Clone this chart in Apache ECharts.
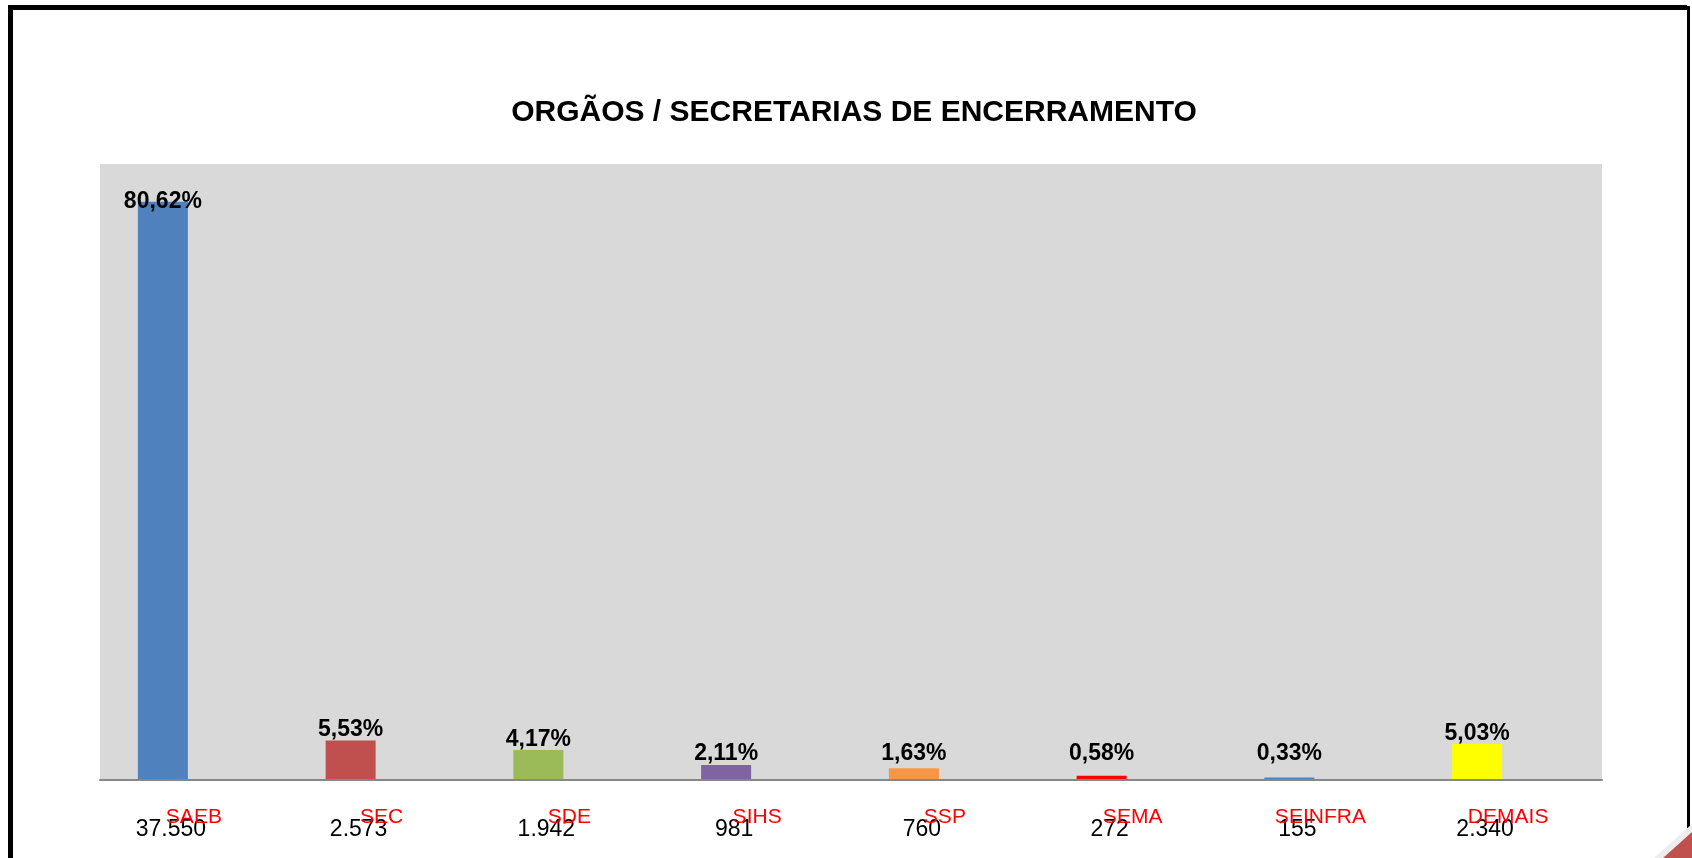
<!DOCTYPE html>
<html>
<head>
<meta charset="utf-8">
<script src="https://cdn.jsdelivr.net/npm/echarts@6/dist/echarts.min.js"></script>
<style>
html,body{margin:0;padding:0;background:#fff;}
#chart{width:1692px;height:858px;}
</style>
</head>
<body>
<div id="chart"></div>
<script>
const categories = ['SAEB', 'SEC', 'SDE', 'SIHS', 'SSP', 'SEMA', 'SEINFRA', 'DEMAIS'];
const counts = [37550, 2573, 1942, 981, 760, 272, 155, 2340];
const percentLabels = ['80,62%', '5,53%', '4,17%', '2,11%', '1,63%', '0,58%', '0,33%', '5,03%'];
const barColors = ['#4F81BD', '#C0504D', '#9BBB59', '#8064A2', '#F79646', '#FF0000', '#4F81BD', '#FFFF00'];
const titleText = 'ORGÃOS / SECRETARIAS DE ENCERRAMENTO';
const yMax = 40000;
const labelFloor = 1000;

const fmtCount = v => String(v).replace(/\B(?=(\d{3})+(?!\d))/g, '.');
const FONT = '"Liberation Sans", Arial, sans-serif';
const maxCount = Math.max(...counts);

const chart = echarts.init(document.getElementById('chart'), null, {renderer: 'canvas'});
chart.setOption({
  backgroundColor: '#ffffff',
  animation: false,
  title: {
    text: titleText,
    left: 849, top: 93, textAlign: 'center',
    textStyle: {fontFamily: FONT, fontSize: 30, fontWeight: 'bold', color: '#000'}
  },
  grid: {
    left: 100, right: 90, top: 164, bottom: 78,
    show: true, backgroundColor: '#D9D9D9', borderWidth: 0
  },
  xAxis: [
    {
      type: 'category', data: categories, z: 5,
      axisLine: {show: true, lineStyle: {color: '#878787', width: 2}},
      axisTick: {show: false},
      axisLabel: {margin: 27, color: '#FF0000', fontFamily: FONT, fontSize: 21, interval: 0}
    },
    {
      type: 'category', data: counts.map(fmtCount), position: 'bottom', offset: 0, z: 3,
      axisLine: {show: false}, axisTick: {show: false},
      axisLabel: {margin: 38, color: '#000', fontFamily: FONT, fontSize: 23, interval: 0,
                  padding: [0, 46, 0, 0]}
    }
  ],
  yAxis: {type: 'value', min: 0, max: yMax, show: false, splitLine: {show: false}},
  series: [
    {
      type: 'bar', stack: 'v', barWidth: 50, barGap: '24%',
      data: counts.map((v, i) => ({value: v, itemStyle: {color: barColors[i]}})),
      silent: true
    },
    {
      type: 'bar', stack: 'v', barWidth: 50, barGap: '24%',
      data: counts.map(v => {
        const item = {value: Math.max(0, labelFloor - v)};
        if (v === maxCount) item.label = {distance: -11};
        return item;
      }),
      itemStyle: {color: 'rgba(0,0,0,0)'},
      silent: true,
      label: {
        show: true, position: 'top', distance: -1,
        fontFamily: FONT, fontSize: 23, fontWeight: 'bold', color: '#000',
        formatter: p => percentLabels[p.dataIndex]
      }
    },
    {
      type: 'bar', barWidth: 50, barGap: '24%',
      data: categories.map(() => '-'),
      silent: true
    }
  ],
  graphic: [
    {type: 'polyline', shape: {points: [[10.5, 870], [10.5, 7.5], [1687, 7.5]]},
     style: {stroke: '#000', lineWidth: 5, fill: null}},
    {type: 'line', shape: {x1: 1688.5, y1: 6, x2: 1688.5, y2: 828},
     style: {stroke: '#000', lineWidth: 3}},
    {type: 'polygon', shape: {points: [[1654, 858], [1692, 824], [1692, 858]]},
     style: {fill: '#EDEDED'}},
    {type: 'polygon', shape: {points: [[1663, 858], [1692, 832], [1692, 858]]},
     style: {fill: '#C0504D'}}
  ]
});
</script>
</body>
</html>
